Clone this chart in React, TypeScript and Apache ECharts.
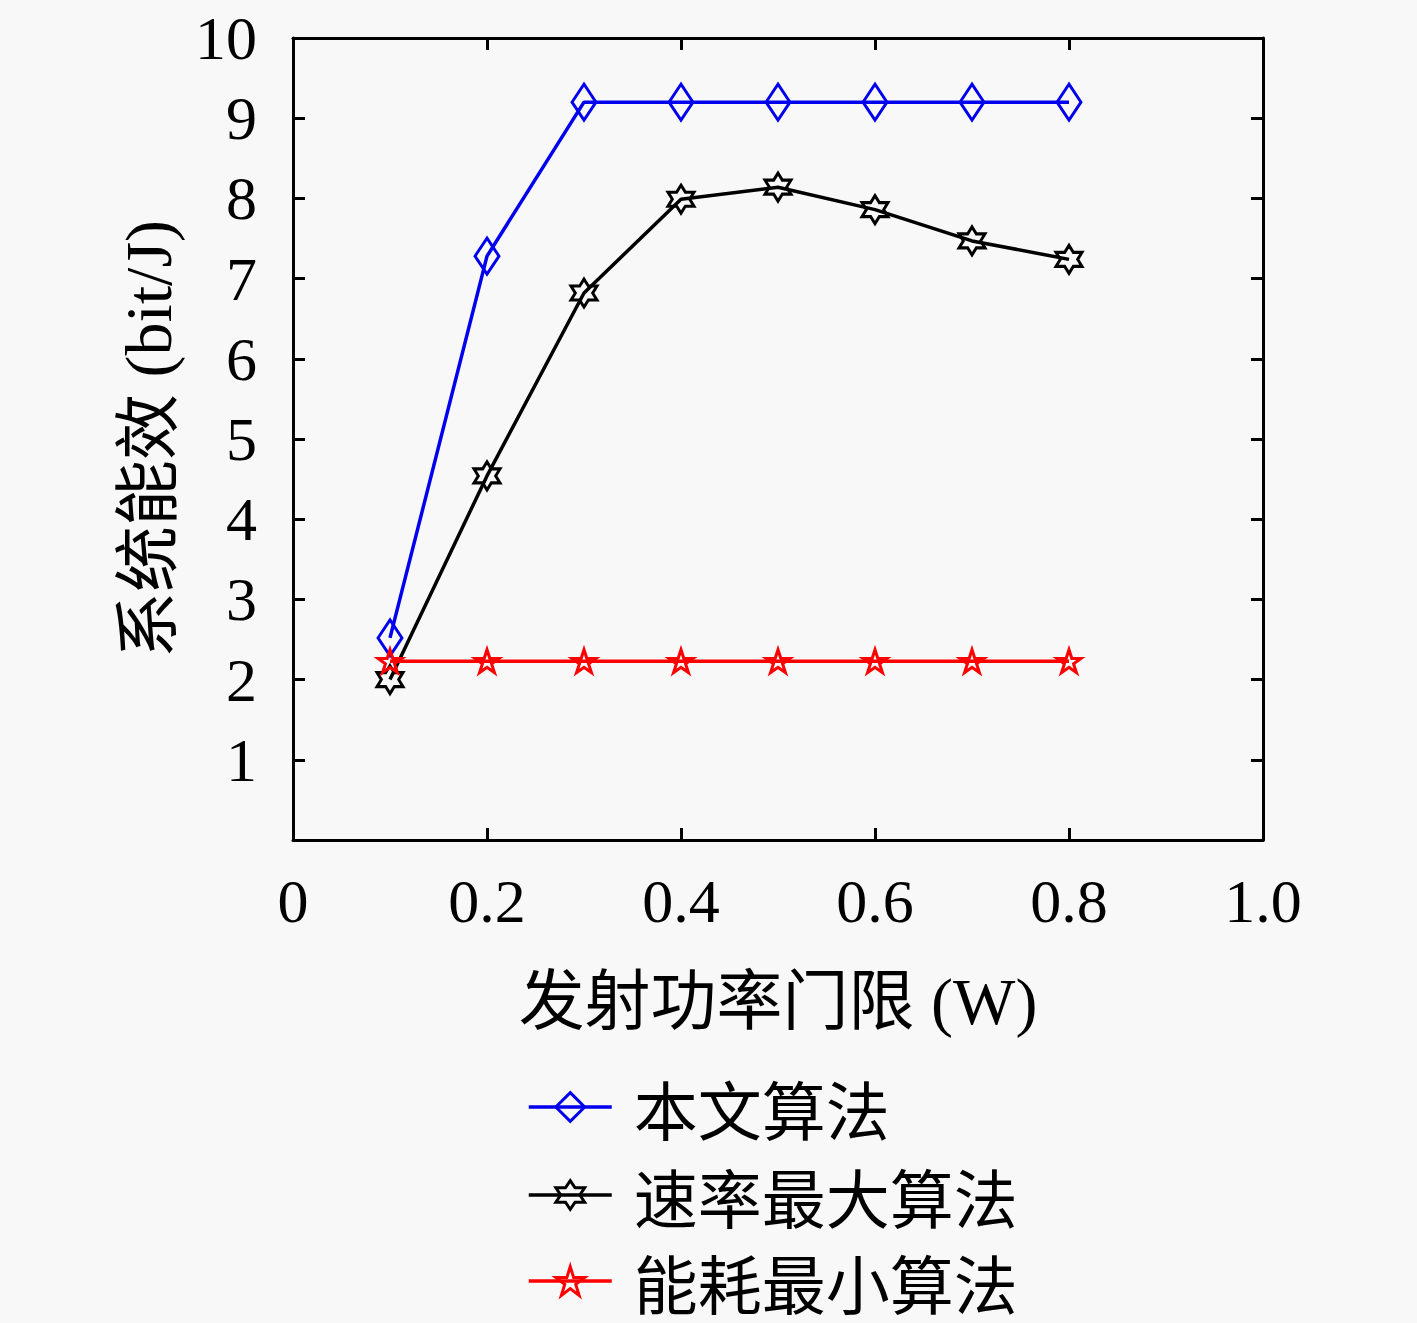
import React, { useEffect, useRef } from "react";
import * as echarts from "echarts";

const xValues = [0.1, 0.2, 0.3, 0.4, 0.5, 0.6, 0.7, 0.8];
const proposed = [2.52, 7.28, 9.2, 9.2, 9.2, 9.2, 9.2, 9.2];
const maxRate = [2.0, 4.54, 6.82, 7.99, 8.14, 7.86, 7.47, 7.24];
const minEnergy = [2.23, 2.23, 2.23, 2.23, 2.23, 2.23, 2.23, 2.23];
const seriesNames = ["本文算法", "速率最大算法", "能耗最小算法"];
const xTitle = "发射功率门限 (W)";
const yTitle = "系统能效 (bit/J)";

const HEXAGRAM =
  "path://M0,-1L0.289,-0.5L0.866,-0.5L0.577,0L0.866,0.5L0.289,0.5L0,1L-0.289,0.5L-0.866,0.5L-0.577,0L-0.866,-0.5L-0.289,-0.5Z";
const STAR5 =
  "path://M0,-1L0.2245,-0.309L0.951,-0.309L0.363,0.118L0.588,0.809L0,0.382L-0.588,0.809L-0.363,0.118L-0.951,-0.309L-0.2245,-0.309Z";
const DIAMOND = "path://M0,-1L0.66,0L0,1L-0.66,0Z";

const SERIF = '"Liberation Serif", "Noto Sans CJK SC", serif';

export default function App() {
  const ref = useRef<HTMLDivElement>(null);
  useEffect(() => {
    document.body.style.margin = "0";
    document.body.style.background = "#f8f8f8";
    const chart = echarts.init(ref.current!, null, { renderer: "svg" });
    const pairs = (ys: number[]) => xValues.map((x, i) => [x, ys[i]]);
    const mkSeries = (name: string, ys: number[], color: string, symbol: string, size: any) => ({
      name,
      type: "line",
      data: pairs(ys),
      symbol,
      symbolSize: size,
      showAllSymbol: true,
      lineStyle: { color, width: 3.5 },
      itemStyle: { color: "rgba(0,0,0,0)", borderColor: color, borderWidth: 3 },
      emphasis: { disabled: true },
    });
    const legendBase = (name: string, top: number) => ({
      data: [name],
      orient: "vertical",
      left: 527,
      top,
      padding: 0,
      itemWidth: 83,
      itemHeight: 36,
      lineStyle: { width: 3.5 },
      itemStyle: { borderWidth: 3 },
      textStyle: {
        fontSize: 64,
        lineHeight: 64,
        fontFamily: '"Noto Sans CJK SC", sans-serif',
        color: "#000",
        padding: [0, 0, 0, 17],
      },
      selectedMode: false,
    });
    const axisLineStyle = { color: "#000", width: 3 };
    const mkTick = () => ({ show: true, inside: true, length: 12, lineStyle: { color: "#000", width: 3 } });
    chart.setOption({
      animation: false,
      backgroundColor: "#f8f8f8",
      grid: { left: 293, top: 38, width: 970, height: 802, containLabel: false },
      legend: [
        legendBase(seriesNames[0], 1075),
        legendBase(seriesNames[1], 1163),
        legendBase(seriesNames[2], 1249),
      ],
      xAxis: [
        {
          type: "value",
          min: 0,
          max: 1,
          interval: 0.2,
          position: "bottom",
          axisLine: { show: true, onZero: false, lineStyle: axisLineStyle },
          axisTick: mkTick(),
          splitLine: { show: false },
          axisLabel: {
            fontSize: 62,
            fontFamily: SERIF,
            color: "#000",
            margin: 30,
            formatter: (v: number) => (v === 0 ? "0" : v.toFixed(1)),
          },
          name: xTitle,
          nameLocation: "middle",
          nameGap: 128,
          nameTextStyle: { fontSize: 66, fontFamily: SERIF, color: "#000" },
        },
        {
          type: "value",
          min: 0,
          max: 1,
          interval: 0.2,
          position: "top",
          axisLine: { show: true, onZero: false, lineStyle: axisLineStyle },
          axisTick: mkTick(),
          splitLine: { show: false },
          axisLabel: { show: false },
        },
      ],
      yAxis: [
        {
          type: "value",
          min: 0,
          max: 10,
          interval: 1,
          position: "left",
          axisLine: { show: true, onZero: false, lineStyle: axisLineStyle },
          axisTick: mkTick(),
          splitLine: { show: false },
          axisLabel: {
            fontSize: 62,
            fontFamily: SERIF,
            color: "#000",
            margin: 36,
            formatter: (v: number) => (v === 0 ? "" : String(v)),
          },
          name: yTitle,
          nameLocation: "middle",
          nameGap: 112,
          nameTextStyle: { fontSize: 66, fontFamily: SERIF, color: "#000" },
        },
        {
          type: "value",
          min: 0,
          max: 10,
          interval: 1,
          position: "right",
          axisLine: { show: true, onZero: false, lineStyle: axisLineStyle },
          axisTick: mkTick(),
          splitLine: { show: false },
          axisLabel: { show: false },
        },
      ],
      series: [
        mkSeries(seriesNames[0], proposed, "#0000ee", DIAMOND, [24, 36]),
        mkSeries(seriesNames[1], maxRate, "#000000", HEXAGRAM, [26, 28]),
        mkSeries(seriesNames[2], minEnergy, "#ff0000", STAR5, [24, 23]),
      ],
    });
    return () => chart.dispose();
  }, []);
  return <div ref={ref} style={{ width: 1417, height: 1323 }} />;
}
